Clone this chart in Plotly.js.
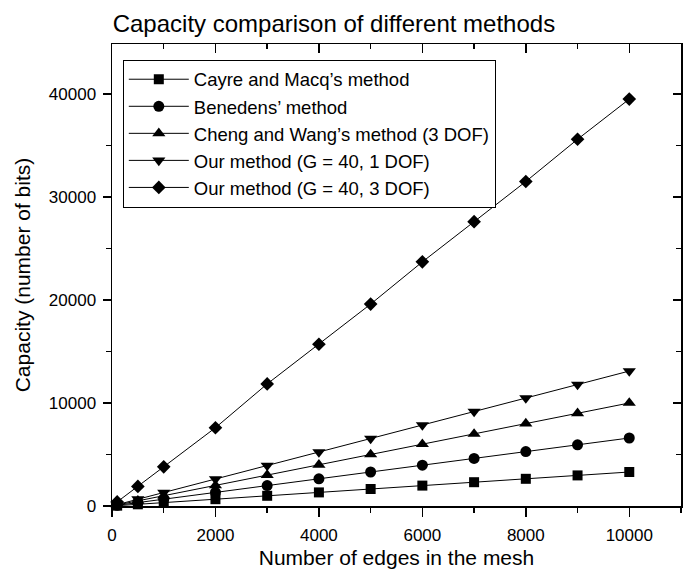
<!DOCTYPE html>
<html>
<head>
<meta charset="utf-8">
<script src="https://cdn.plot.ly/plotly-3.0.1.min.js"></script>
<style>
html,body{margin:0;padding:0;background:#fff;}
#chart{width:700px;height:574px;}
</style>
</head>
<body>
<div id="chart"></div>
<script>
// Data
const edges = [100, 500, 1000, 2000, 3000, 4000, 5000, 6000, 7000, 8000, 9000, 10000];
const cayreMacq = [33, 165, 330, 660, 990, 1320, 1650, 1980, 2310, 2640, 2970, 3300];
const benedens = [66, 330, 660, 1320, 1980, 2640, 3300, 3960, 4620, 5280, 5940, 6600];
const chengWang = [100, 500, 1000, 2000, 3000, 4000, 5000, 6000, 7000, 8000, 9000, 10000];
const ourG40_1DOF = [131, 655, 1310, 2620, 3930, 5240, 6550, 7860, 9170, 10480, 11790, 13100];
const ourG40_3DOF = [395, 1900, 3800, 7600, 11850, 15700, 19600, 23700, 27600, 31500, 35600, 39500];

const seriesNames = [
  "Cayre and Macq\u2019s method",
  "Benedens\u2019 method",
  "Cheng and Wang\u2019s method (3 DOF)",
  "Our method (G = 40, 1 DOF)",
  "Our method (G = 40, 3 DOF)"
];
const seriesValues = [cayreMacq, benedens, chengWang, ourG40_1DOF, ourG40_3DOF];
const symbols = ["square", "circle", "triangle-up", "triangle-down", "diamond"];
const sizes = [10, 11, 11.5, 11.5, 10.5];

const xRange = [0, 11000];
const yRange = [0, 44850];

const FONT = "Liberation Sans, Arial, Helvetica, sans-serif";

const traces = seriesValues.map((vals, i) => ({
  type: "scatter",
  mode: "lines+markers",
  name: seriesNames[i],
  x: edges,
  y: vals,
  line: {color: "#000", width: 1},
  marker: {symbol: symbols[i], size: sizes[i], color: "#000", line: {width: 0}},
  cliponaxis: false
}));

const layout = {
  width: 700, height: 574,
  paper_bgcolor: "#fff", plot_bgcolor: "#fff",
  margin: {l: 112, r: 19, t: 44, b: 68},
  showlegend: true,
  font: {family: FONT, color: "#000"},
  title: {
    text: "Capacity comparison of different methods",
    font: {family: FONT, size: 24, color: "#000"},
    x: 0.477, xref: "container", xanchor: "center",
    y: 0.974, yref: "container", yanchor: "top"
  },
  legend: {
    x: 0.019, y: 0.966, xanchor: "left", yanchor: "top",
    bordercolor: "#000", borderwidth: 1, bgcolor: "#fff",
    font: {family: FONT, size: 18.5, color: "#000"},
    tracegroupgap: 0, itemwidth: 60
  },
  xaxis: {
    range: xRange, autorange: false,
    showgrid: false, zeroline: false,
    showline: true, linecolor: "#000", linewidth: 1.5,
    ticks: "outside", ticklen: 9, tickwidth: 1.5, tickcolor: "#000",
    dtick: 2000, tick0: 0, tickformat: "d", ticklabelstandoff: 4,
    minor: {ticks: "outside", ticklen: 5, tickwidth: 1.5, tickcolor: "#000", dtick: 1000, showgrid: false},
    tickfont: {family: FONT, size: 17, color: "#000"},
    title: {text: "Number of edges in the mesh", font: {family: FONT, size: 21, color: "#000"}, standoff: 6}
  },
  yaxis: {
    range: yRange, autorange: false,
    showgrid: false, zeroline: false,
    showline: true, linecolor: "#000", linewidth: 1.5,
    ticks: "outside", ticklen: 8, tickwidth: 1.5, tickcolor: "#000",
    dtick: 10000, tick0: 0, tickformat: "d", ticklabelstandoff: 3,
    minor: {ticks: "outside", ticklen: 5, tickwidth: 1.5, tickcolor: "#000", dtick: 5000, showgrid: false},
    tickfont: {family: FONT, size: 17, color: "#000"},
    title: {text: "Capacity (number of bits)", font: {family: FONT, size: 21, color: "#000"}, standoff: 12}
  },
  xaxis2: {
    overlaying: "x", side: "top", range: xRange, autorange: false,
    showgrid: false, zeroline: false, showticklabels: false,
    showline: true, linecolor: "#000", linewidth: 1.5,
    ticks: "inside", ticklen: 9, tickwidth: 1.5, tickcolor: "#000",
    dtick: 2000, tick0: 0,
    minor: {ticks: "inside", ticklen: 5, tickwidth: 1.5, tickcolor: "#000", dtick: 1000, showgrid: false}
  },
  yaxis2: {
    overlaying: "y", side: "right", range: yRange, autorange: false,
    showgrid: false, zeroline: false, showticklabels: false,
    showline: true, linecolor: "#000", linewidth: 1.5,
    ticks: "inside", ticklen: 8, tickwidth: 1.5, tickcolor: "#000",
    dtick: 10000, tick0: 0,
    minor: {ticks: "inside", ticklen: 5, tickwidth: 1.5, tickcolor: "#000", dtick: 5000, showgrid: false}
  }
};

// invisible helper trace so the mirrored top/right axes are drawn
traces.push({type: "scatter", mode: "markers", x: [], y: [], xaxis: "x2", yaxis: "y2", showlegend: false, hoverinfo: "skip"});

Plotly.newPlot("chart", traces, layout, {displayModeBar: false, staticPlot: true});
</script>
</body>
</html>
